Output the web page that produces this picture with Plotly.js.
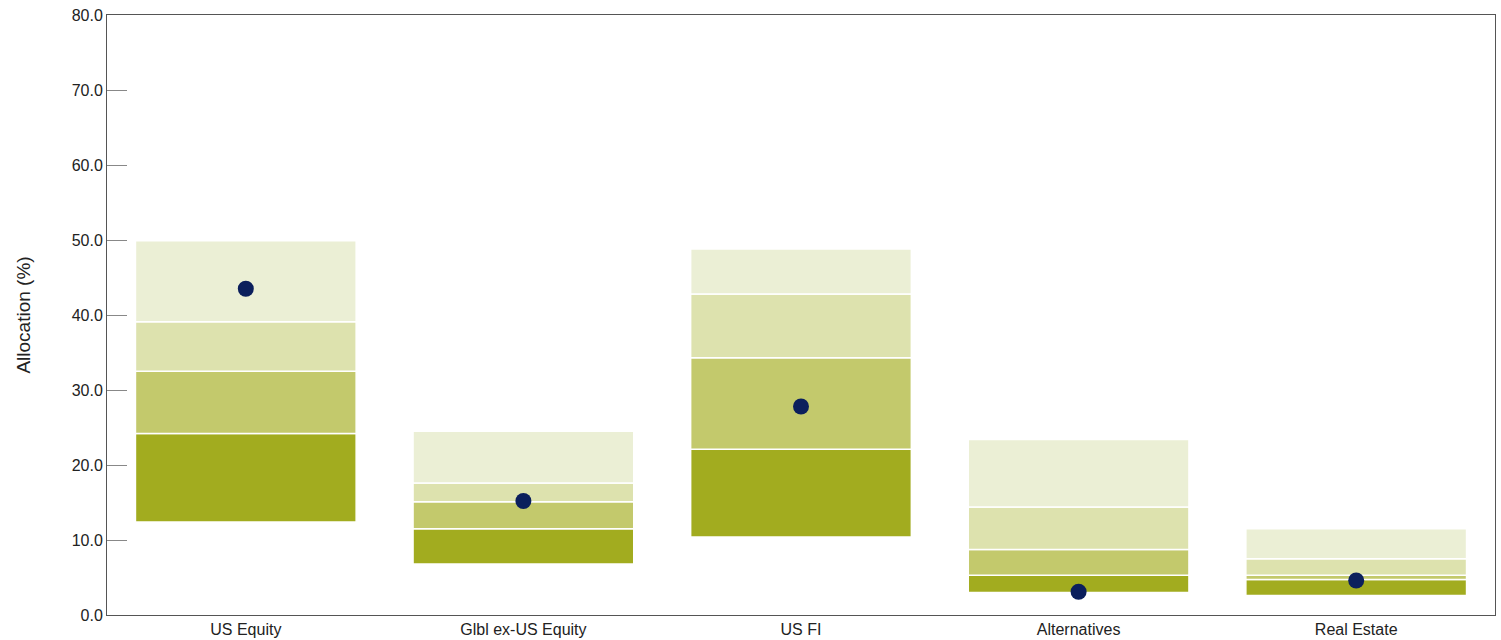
<!DOCTYPE html>
<html>
<head>
<meta charset="utf-8">
<script src="https://cdn.plot.ly/plotly-3.0.1.min.js"></script>
<style>html,body{margin:0;padding:0;background:#fff;}#chart{width:1501px;height:640px;}</style>
</head>
<body>
<div id="chart"></div>
<script>
const categories = ['US Equity', 'Glbl ex-US Equity', 'US FI', 'Alternatives', 'Real Estate'];
const p5  = [12.4, 6.8, 10.4, 3.0, 2.6];
const p25 = [24.2, 11.5, 22.1, 5.3, 4.75];
const p50 = [32.5, 15.1, 34.3, 8.75, 5.3];
const p75 = [39.1, 17.6, 42.8, 14.4, 7.5];
const p95 = [49.9, 24.5, 48.8, 23.4, 11.5];
const actual = [43.5, 15.2, 27.8, 3.1, 4.6];

const bands = [
  {lo: p5,  hi: p25, color: '#a2ac1f'},
  {lo: p25, hi: p50, color: '#c3c96c'},
  {lo: p50, hi: p75, color: '#dde2ae'},
  {lo: p75, hi: p95, color: '#ebefd5'}
];

const traces = bands.map(b => ({
  type: 'bar',
  x: categories,
  base: b.lo,
  y: b.hi.map((v, i) => v - b.lo[i]),
  marker: {color: b.color, line: {color: '#ffffff', width: 1.5}},
  hoverinfo: 'skip',
  showlegend: false
}));

traces.push({
  type: 'scatter',
  mode: 'markers',
  x: categories,
  y: actual,
  marker: {color: '#0b1f5c', size: 16},
  showlegend: false
});

const layout = {
  width: 1501,
  height: 640,
  margin: {l: 107, r: 6, t: 15, b: 25},
  paper_bgcolor: '#ffffff',
  plot_bgcolor: '#ffffff',
  barmode: 'overlay',
  bargap: 0.205,
  font: {family: 'Liberation Sans, Arial, sans-serif', size: 16, color: '#222'},
  xaxis: {
    showgrid: false,
    zeroline: false,
    showline: true,
    linecolor: '#555',
    linewidth: 1,
    mirror: true,
    ticks: '',
    tickfont: {size: 16, color: '#222'}
  },
  yaxis: {
    range: [0, 80],
    dtick: 10,
    tick0: 0,
    tickformat: '.1f',
    showgrid: false,
    zeroline: false,
    showline: true,
    linecolor: '#555',
    linewidth: 1,
    mirror: true,
    ticks: 'inside',
    ticklen: 20,
    tickcolor: '#888',
    tickwidth: 1,
    tickfont: {size: 16, color: '#222'},
    title: {text: 'Allocation (%)', font: {size: 19, color: '#222'}, standoff: 36}
  }
};

Plotly.newPlot('chart', traces, layout, {displayModeBar: false, staticPlot: true});
</script>
</body>
</html>
